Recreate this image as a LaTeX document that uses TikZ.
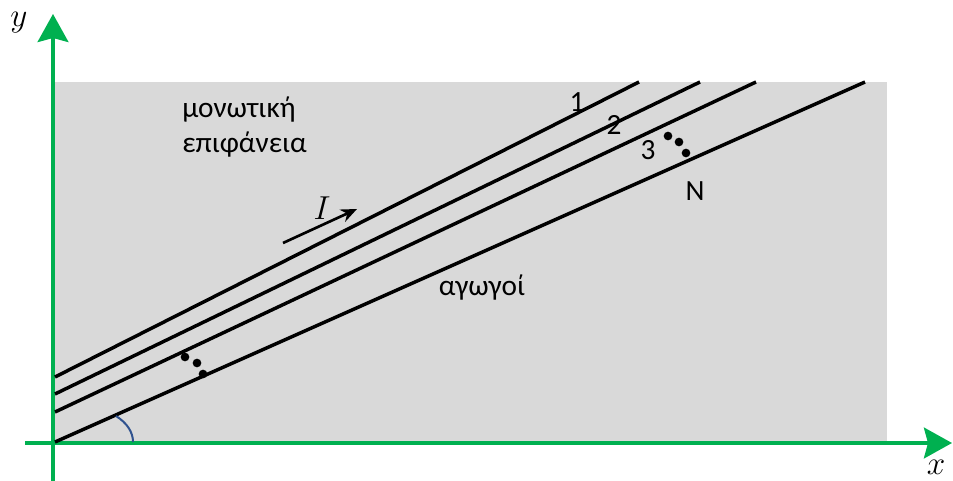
\documentclass[tikz,border=0pt]{standalone}
\usepackage{fontspec}
\setmainfont{Carlito}
\usetikzlibrary{arrows.meta}
\definecolor{axisgreen}{HTML}{00B050}
\definecolor{anglecol}{HTML}{2F528F}
\definecolor{surfgray}{HTML}{D9D9D9}
\begin{document}
\begin{tikzpicture}[x=0.75pt, y=-0.75pt,
  axis/.style={axisgreen, line width=3pt, -{Stealth[length=21pt, width=23pt, inset=3pt]}},
  wire/.style={line width=2.6pt},
  lbl/.style={font=\fontsize{22}{26.25}\selectfont, inner sep=0pt},
  mathlbl/.style={font=\fontsize{24}{28}\selectfont, inner sep=0pt},
  dotmark/.style={circle, fill, inner sep=0pt, minimum size=6.5pt}
]
\useasboundingbox (0,0) rectangle (953,481);
\fill[surfgray] (55,82) rectangle (887,441);
% axes
\coordinate (O) at (53,443);
\coordinate (xs) at (25,443);
\coordinate (xe) at (952,443);
\coordinate (ys) at (53,481);
\coordinate (ye) at (53,14);
\draw[axis] (xs) -- (xe);
\draw[axis] (ys) -- (ye);
\node[mathlbl] (xlab) at (936,467) {$x$};
\node[mathlbl] (ylab) at (19,23) {$y$};
% wires
\coordinate (s1) at (55,377);  \coordinate (e1) at (639,82);
\coordinate (s2) at (55,394);  \coordinate (e2) at (700,82);
\coordinate (s3) at (55,412);  \coordinate (e3) at (756,82);
\coordinate (sN) at (55,442);  \coordinate (eN) at (865,82);
\draw[wire] (s1) -- (e1);
\draw[wire] (s2) -- (e2);
\draw[wire] (s3) -- (e3);
\draw[wire] (sN) -- (eN);
\node[lbl] (n1) at (577,102) {1};
\node[lbl] (n2) at (614,125) {2};
\node[lbl] (n3) at (648,150) {3};
\node[lbl] (nN) at (695,191) {N};
\node[dotmark] (da) at (668,136) {};
\node[dotmark] (db) at (679,142) {};
\node[dotmark] (dc) at (686,153) {};
\node[dotmark] (dd) at (185,357) {};
\node[dotmark] (de) at (197,363) {};
\node[dotmark] (df) at (203,374) {};
% angle
\coordinate (a1) at (116,416);
\coordinate (a2) at (133,442);
\draw[anglecol, line width=1.5pt] (a1) .. controls (127,423) and (133,432) .. (a2);
% current
\coordinate (c1) at (283,243);
\coordinate (c2) at (357,209);
\draw[line width=2pt, -{Stealth[length=12pt, width=10pt]}] (c1) -- (c2);
\node[mathlbl] (cur) at (322,208) {$I$};
% texts
\node[lbl, anchor=base west, align=left] (surf) at (182,153) {μονωτική\\επιφάνεια};
\node[lbl, anchor=base] (wires) at (482,295) {αγωγοί};
\end{tikzpicture}
\end{document}
